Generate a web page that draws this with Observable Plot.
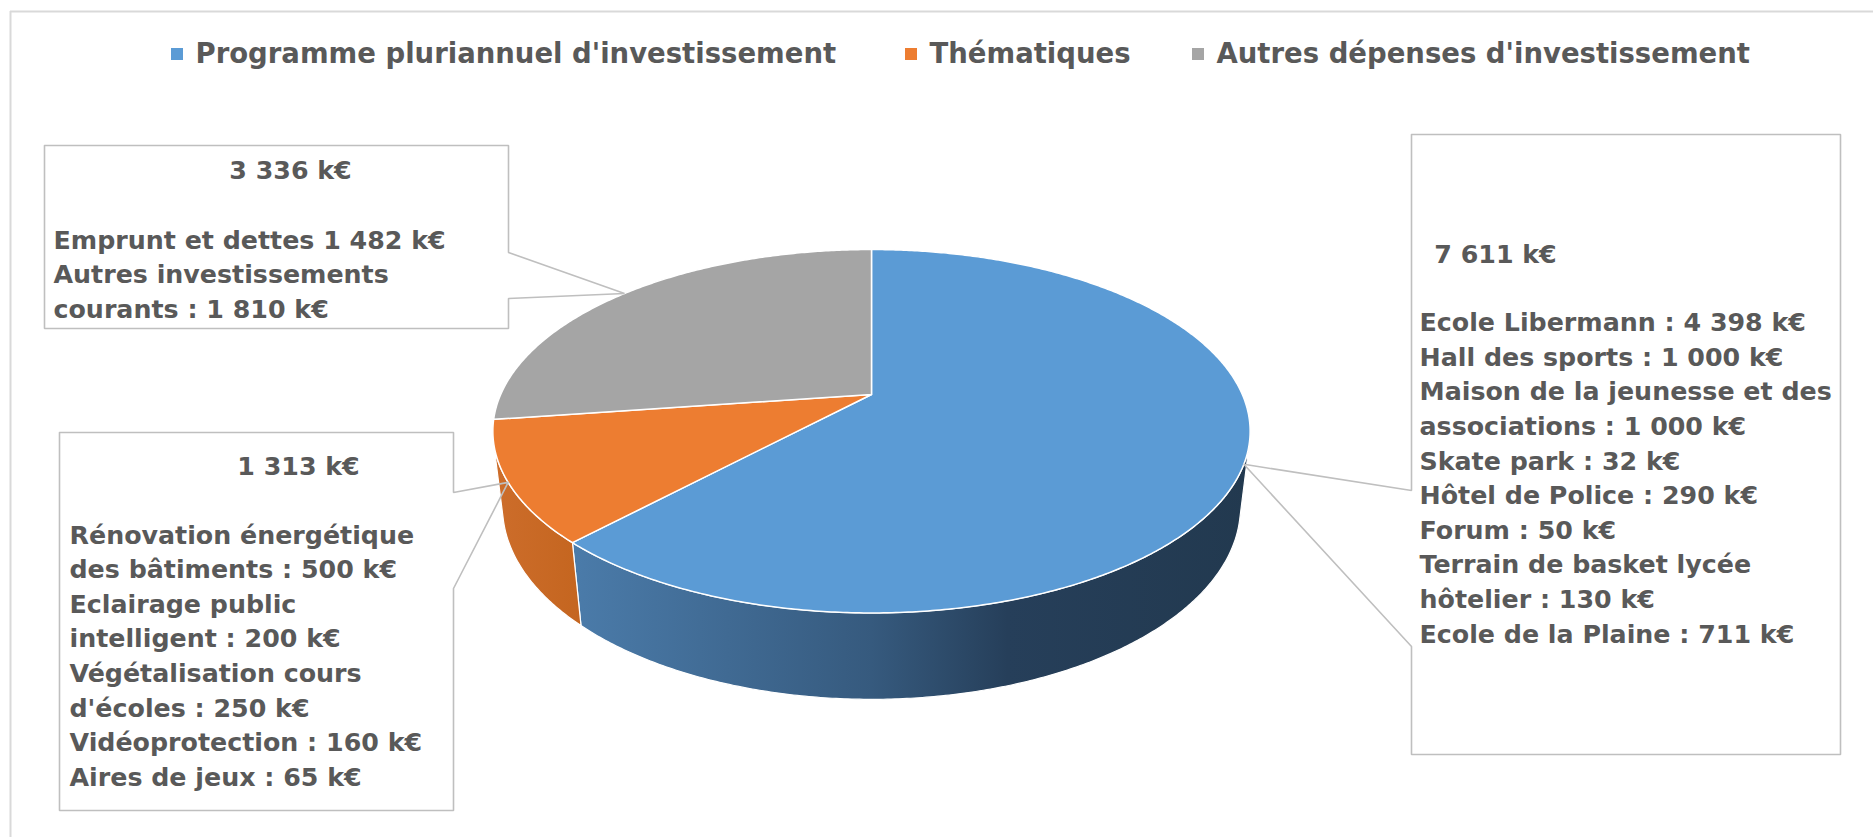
<!DOCTYPE html>
<html>
<head>
<meta charset="utf-8">
<script src="https://cdn.jsdelivr.net/npm/d3@7"></script>
<script src="https://cdn.jsdelivr.net/npm/@observablehq/plot@0.6"></script>
<style>
  html, body { margin: 0; padding: 0; background: #ffffff; }
  #chart svg { display: block; }
</style>
</head>
<body>
<div id="chart"></div>
<script>
// ---------- data ----------
const categories = ["Programme pluriannuel d'investissement", "Thématiques", "Autres dépenses d'investissement"];
const values = [7611, 1313, 3336];
const colors = ["#5b9bd5", "#ed7d31", "#a5a5a5"];
const detailPPI = [
  "Ecole Libermann : 4 398 k€",
  "Hall des sports : 1 000 k€",
  "Maison de la jeunesse et des",
  "associations : 1 000 k€",
  "Skate park : 32 k€",
  "Hôtel de Police : 290 k€",
  "Forum : 50 k€",
  "Terrain de basket lycée",
  "hôtelier : 130 k€",
  "Ecole de la Plaine : 711 k€"
];
const detailThematiques = [
  "Rénovation énergétique",
  "des bâtiments : 500 k€",
  "Eclairage public",
  "intelligent : 200 k€",
  "Végétalisation cours",
  "d'écoles : 250 k€",
  "Vidéoprotection : 160 k€",
  "Aires de jeux : 65 k€"
];
const detailAutres = [
  "Emprunt et dettes 1 482 k€",
  "Autres investissements",
  "courants : 1 810 k€"
];
const details = [detailPPI, detailThematiques, detailAutres];

// ---------- layout / style ----------
const W = 1873, H = 837;
const font = "DejaVu Sans";
const textColor = "#595959";
const legendLayout = { y: 54, squareX: [171, 905, 1192], size: 12, textGap: 24, fontSize: 27.5 };
const boxLayout = [
  { x0: 1411, y0: 134, x1: 1840, y1: 754, side: "left",  notch: [490, 646], titleX: 1495, titleY: 254, textX: 1419, firstY: 322.5 },
  { x0: 59,   y0: 432, x1: 453,  y1: 810, side: "right", notch: [492, 588], titleX: 298,  titleY: 466, textX: 69,   firstY: 535 },
  { x0: 44,   y0: 145, x1: 508,  y1: 328, side: "right", notch: [252, 298], titleX: 290,  titleY: 170, textX: 53,   firstY: 240 }
];
const lineStep = 34.6;
const boxFont = 25.3;
// 3D camera for the pie
const cam = { f: 1619, ox: 871, oy: 394, sinElev: 0.47, dist: 4.366, depth: 0.234 };
const sideStops = [
  [[0, "#5287ba"], [0.12, "#4a7aa8"], [0.5, "#365a7e"], [0.68, "#263f5a"], [1, "#22394f"]],
  [[0, "#cd6d2b"], [0.12, "#c4651f"], [0.5, "#9c4d18"], [1, "#6e3612"]],
  [[0, "#8a8a8a"], [1, "#5a5a5a"]]
];

// ---------- geometry from data ----------
const s = cam.sinElev, c = Math.sqrt(1 - s * s);
function project(X, Y, Z) {
  const yc = -Y * s + Z * c;
  const zc = cam.dist - Y * c - Z * s;
  return { x: cam.ox + cam.f * X / zc, y: cam.oy - cam.f * yc / zc };
}
const rim = (a, Z) => project(Math.sin(a), -Math.cos(a), Z);
function arcPts(a0, a1, Z) {
  const n = Math.max(2, Math.ceil(Math.abs(a1 - a0) / (Math.PI / 360)));
  return d3.range(n + 1).map(i => rim(a0 + (a1 - a0) * i / n, Z));
}
const apex = project(0, 0, 0);
const pie = d3.pie().sort(null).value(d => d)(values);
const sil = Math.acos(-1 / (cam.dist * c));

const sideMarks = [];
pie.forEach((p, i) => {
  const a0 = Math.max(p.startAngle, sil), a1 = Math.min(p.endAngle, 2 * Math.PI - sil);
  if (a1 <= a0) return;
  const pts = [...arcPts(a0, a1, 0), ...arcPts(a1, a0, -cam.depth)];
  pts.push(pts[0]);
  sideMarks.push(Plot.line(pts, { x: "x", y: "y", fill: `url(#side${i})`, stroke: "#ffffff", strokeWidth: 1.2, strokeLinejoin: "round" }));
});
const topMarks = pie.map((p, i) => {
  const pts = [apex, ...arcPts(p.startAngle, p.endAngle, 0), apex];
  return Plot.line(pts, { x: "x", y: "y", fill: colors[i], stroke: "#ffffff", strokeWidth: 1.5, strokeLinejoin: "round" });
});

// callout boxes
const fmt = v => String(v).replace(/\B(?=(\d{3})+(?!\d))/g, " ") + " k€";
const boxMarks = [];
boxLayout.forEach((b, i) => {
  const p = pie[i];
  const tip = rim((p.startAngle + p.endAngle) / 2, 0);
  let pts;
  if (b.side === "left") {
    pts = [[b.x0, b.y0], [b.x1, b.y0], [b.x1, b.y1], [b.x0, b.y1], [b.x0, b.notch[1]], [tip.x, tip.y], [b.x0, b.notch[0]], [b.x0, b.y0]];
  } else {
    pts = [[b.x0, b.y0], [b.x1, b.y0], [b.x1, b.notch[0]], [tip.x, tip.y], [b.x1, b.notch[1]], [b.x1, b.y1], [b.x0, b.y1], [b.x0, b.y0]];
  }
  boxMarks.push(Plot.line(pts, { x: d => d[0], y: d => d[1], stroke: "#bfbfbf", strokeWidth: 1.6, fill: "none", strokeLinejoin: "miter" }));
  boxMarks.push(Plot.text([fmt(values[i])], {
    x: b.titleX, y: b.titleY, text: d => d, textAnchor: "middle", lineAnchor: "middle",
    fontSize: boxFont, fontWeight: "bold", fontFamily: font, fill: textColor
  }));
  boxMarks.push(Plot.text(details[i].map((t, j) => ({ t, y: b.firstY + j * lineStep })), {
    x: b.textX, y: "y", text: "t", textAnchor: "start", lineAnchor: "middle",
    fontSize: boxFont, fontWeight: "bold", fontFamily: font, fill: textColor
  }));
});

// legend
const legendData = categories.map((name, i) => ({ name, color: colors[i], x: legendLayout.squareX[i] }));

const chart = Plot.plot({
  width: W, height: H, margin: 0,
  style: { fontFamily: font, background: "#ffffff" },
  x: { domain: [0, W], range: [0, W], axis: null },
  y: { domain: [0, H], range: [0, H], axis: null },
  color: { type: "identity" },
  marks: [
    Plot.ruleY([11], { x1: 10, x2: W, stroke: "#d9d9d9", strokeWidth: 2 }),
    Plot.ruleX([10], { y1: 11, y2: H, stroke: "#d9d9d9", strokeWidth: 2 }),
    ...sideMarks,
    ...topMarks,
    ...boxMarks,
    Plot.rect(legendData, {
      x1: "x", x2: d => d.x + legendLayout.size,
      y1: legendLayout.y - legendLayout.size / 2, y2: legendLayout.y + legendLayout.size / 2,
      fill: "color"
    }),
    Plot.text(legendData, {
      x: d => d.x + legendLayout.textGap, y: legendLayout.y, text: "name",
      textAnchor: "start", lineAnchor: "middle",
      fontSize: legendLayout.fontSize, fontWeight: "bold", fontFamily: font, fill: textColor
    })
  ]
});

// side gradients
const xs = d3.range(0, 360, 0.5).map(a => rim(a * Math.PI / 180, 0).x);
const [gx0, gx1] = d3.extent(xs);
const defs = d3.select(chart).insert("defs", ":first-child");
sideStops.forEach((stops, i) => {
  const g = defs.append("linearGradient").attr("id", `side${i}`)
    .attr("gradientUnits", "userSpaceOnUse")
    .attr("x1", gx0).attr("x2", gx1).attr("y1", 0).attr("y2", 0);
  stops.forEach(([o, col]) => g.append("stop").attr("offset", o).attr("stop-color", col));
});

document.getElementById("chart").appendChild(chart);
</script>
</body>
</html>
